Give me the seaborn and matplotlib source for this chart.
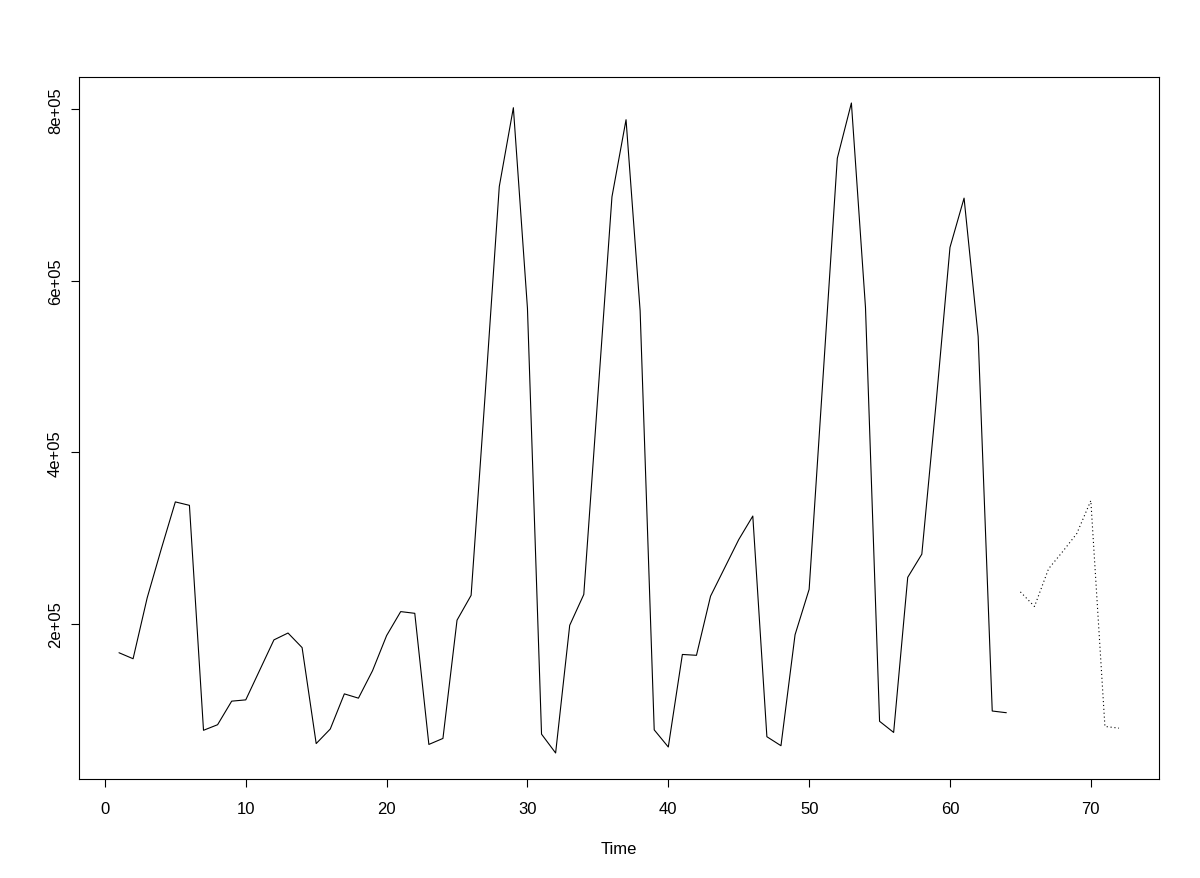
import pandas as pd
import matplotlib.pyplot as plt
import seaborn as sns

# Serie observada (t = 1..64)
tempo_obs = list(range(1, 65))
valores_obs = [166000, 159000, 230000, 287000, 342000, 338000, 75500, 82000,
               109500, 111000, 146000, 181000, 189000, 172000, 60000, 77000,
               118000, 113000, 145000, 186000, 214000, 212000, 59000, 66000,
               204000, 233000, 468000, 710000, 802000, 568000, 71000, 49000,
               198000, 234000, 466000, 698000, 788000, 565000, 76000, 56000,
               164000, 163000, 232000, 265000, 298000, 325500, 68000, 57500,
               187000, 240000, 491000, 743000, 807500, 569000, 86000, 73000,
               254000, 281000, 455000, 639000, 696500, 535000, 98000, 96000]

# Previsao (t = 65..72), linha pontilhada
tempo_prev = list(range(65, 73))
valores_prev = [237000, 220000, 264000, 284000, 305000, 343500, 80000, 78000]

# Eixos
x_ticks = [0, 10, 20, 30, 40, 50, 60, 70]
y_ticks = [200000, 400000, 600000, 800000]
y_tick_labels = ['2e+05', '4e+05', '6e+05', '8e+05']

obs = pd.DataFrame({'Time': tempo_obs, 'valor': valores_obs})
prev = pd.DataFrame({'Time': tempo_prev, 'valor': valores_prev})

sns.set_style('white')
plt.rcParams['font.family'] = ['Liberation Sans', 'DejaVu Sans']

fig = plt.figure(figsize=(12, 8.79), dpi=100)
ax = fig.add_axes([79 / 1200, 1 - 780 / 879, 1080 / 1200, 702 / 879])

sns.lineplot(data=obs, x='Time', y='valor', ax=ax, color='black', linewidth=0.8)
sns.lineplot(data=prev, x='Time', y='valor', ax=ax, color='black', linewidth=0.8,
             linestyle=(0, (1, 2.5)))

# limites estilo R (4% de folga)
todos_t = tempo_obs + tempo_prev
todos_v = valores_obs + valores_prev
dx = (max(todos_t) - min(todos_t)) * 0.04
dy = (max(todos_v) - min(todos_v)) * 0.04
ax.set_xlim(min(todos_t) - dx, max(todos_t) + dx)
ax.set_ylim(min(todos_v) - dy, max(todos_v) + dy)

ax.set_xticks(x_ticks)
ax.set_yticks(y_ticks)
ax.set_yticklabels(y_tick_labels, rotation=90, va='center')
ax.tick_params(axis='both', direction='out', length=6, width=0.8, color='black',
               labelsize=12, labelcolor='black', bottom=True, left=True)
ax.tick_params(axis='x', pad=10)
ax.tick_params(axis='y', pad=5.5)

for s in ax.spines.values():
    s.set_visible(True)
    s.set_color('black')
    s.set_linewidth(0.8)

ax.set_xlabel('Time', fontsize=12, color='black', labelpad=18)
ax.set_ylabel('')

plt.savefig('out.png', dpi=100)
plt.close()
